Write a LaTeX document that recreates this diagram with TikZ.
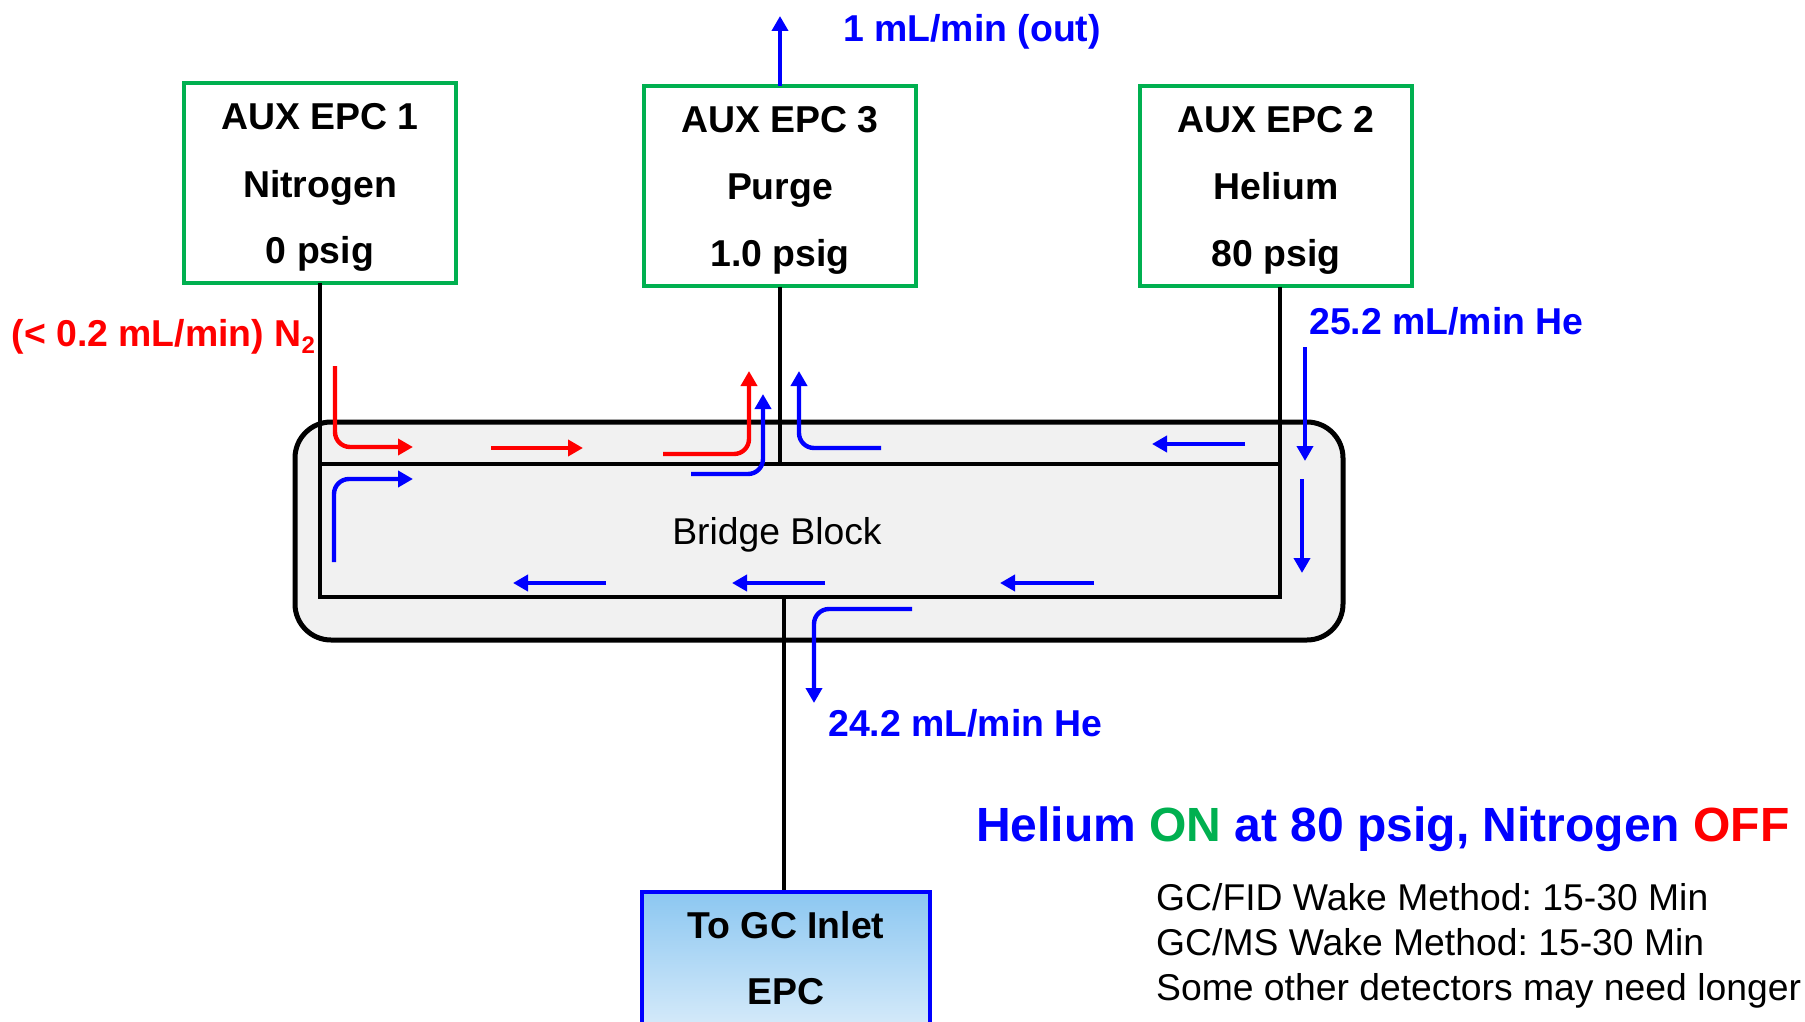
\documentclass[tikz,border=0pt]{standalone}
\usepackage{fontspec}
\setmainfont{Liberation Sans}
\usetikzlibrary{arrows.meta}
\frenchspacing
\definecolor{epcgreen}{HTML}{00B050}
\definecolor{blockgray}{HTML}{F1F1F1}
\definecolor{gctop}{HTML}{8CC7F1}
\definecolor{gcbot}{HTML}{E8F3FC}
\tikzset{
  x=1pt,y=-1pt,
  epcbox/.style={draw=epcgreen,line width=4pt,fill=white,minimum width=272.5pt,minimum height=200pt,inner sep=0pt,anchor=north west},
  boldtxt/.style={font=\fontsize{37.4}{40}\selectfont\bfseries,inner sep=0pt,text=black},
  plain/.style={font=\fontsize{37.3}{40}\selectfont,inner sep=0pt,text=black},
  pipe/.style={draw=black,line width=4pt},
  flow/.style={line width=4.4pt,rounded corners=15pt,-{Triangle[length=15pt,width=16pt]}},
  redflow/.style={flow,draw=red},
  blueflow/.style={flow,draw=blue},
  bluebold/.style={boldtxt,text=blue,anchor=base west},
}
\begin{document}
\begin{tikzpicture}
\path[use as bounding box] (0,0) rectangle (1805,1022);
\clip (0,0) rectangle (1805,1022);
% bridge block
\node[draw=black,line width=5pt,fill=blockgray,rounded corners=36pt,minimum width=1048pt,minimum height=218pt,inner sep=0pt,anchor=north west] (block) at (292.5,419.5) {};
% EPC boxes
\node[epcbox] (e1) at (181.5,81) {};
\node[epcbox] (e3) at (641.5,84) {};
\node[epcbox] (e2) at (1137.5,84) {};
\node[draw=blue,line width=4pt,top color=gctop,bottom color=gcbot,minimum width=288pt,minimum height=170pt,inner sep=0pt,anchor=north west] (gc) at (639.5,890) {};
% junctions
\coordinate (jl1) at (320,464);
\coordinate (jr1) at (1280,464);
\coordinate (jl2) at (318,597);
\coordinate (jr2) at (1282,597);
\coordinate (jp) at (780,464);
\coordinate (jg) at (784,597);
\coordinate (e1s) at (320,283);
\coordinate (e1b) at (320,597);
\coordinate (e2s) at (1280,287);
\coordinate (e2b) at (1280,599);
\coordinate (e3s) at (780,287);
\coordinate (e3n) at (780,86);
\coordinate (outtop) at (780,16);
\draw[pipe] (e1s) -- (e1b);
\draw[pipe] (e3s) -- (jp);
\draw[pipe] (e2s) -- (e2b);
\draw[pipe] (jl1) -- (jr1);
\draw[pipe] (jl2) -- (jr2);
\draw[pipe] (jg) -- (gc.north -| jg);
\draw[draw=blue,line width=4.4pt,-{Triangle[length=15pt,width=16pt]}] (e3n) -- (outtop);
% red flows
\coordinate (r1a) at (335,366);
\coordinate (r1b) at (335,447);
\coordinate (r1c) at (413,447);
\coordinate (r2a) at (491,448);
\coordinate (r2b) at (583,448);
\coordinate (r3a) at (663,454);
\coordinate (r3b) at (749,454);
\coordinate (r3c) at (749,371);
\draw[redflow] (r1a) -- (r1b) -- (r1c);
\draw[redflow] (r2a) -- (r2b);
\draw[redflow] (r3a) -- (r3b) -- (r3c);
% blue flows
\coordinate (b1a) at (691,474);
\coordinate (b1b) at (763,474);
\coordinate (b1c) at (763,394);
\coordinate (b2a) at (881,448);
\coordinate (b2b) at (799,448);
\coordinate (b2c) at (799,371);
\coordinate (b3a) at (334,562);
\coordinate (b3b) at (334,479);
\coordinate (b3c) at (413,479);
\coordinate (b4a) at (606,583);
\coordinate (b4b) at (513,583);
\coordinate (b5a) at (825,583);
\coordinate (b5b) at (732,583);
\coordinate (b6a) at (1094,583);
\coordinate (b6b) at (1000,583);
\coordinate (b7a) at (1245,444);
\coordinate (b7b) at (1152,444);
\coordinate (b8a) at (1305,347);
\coordinate (b8b) at (1305,461);
\coordinate (b9a) at (1302,479);
\coordinate (b9b) at (1302,573);
\coordinate (b10a) at (912,609);
\coordinate (b10b) at (814,609);
\coordinate (b10c) at (814,703);
\draw[blueflow] (b1a) -- (b1b) -- (b1c);
\draw[blueflow] (b2a) -- (b2b) -- (b2c);
\draw[blueflow] (b3a) -- (b3b) -- (b3c);
\draw[blueflow] (b4a) -- (b4b);
\draw[blueflow] (b5a) -- (b5b);
\draw[blueflow] (b6a) -- (b6b);
\draw[blueflow] (b7a) -- (b7b);
\draw[blueflow] (b8a) -- (b8b);
\draw[blueflow] (b9a) -- (b9b);
\draw[blueflow] (b10a) -- (b10b) -- (b10c);
% box text
\node[boldtxt,anchor=base] (t11) at (320,130) {AUX EPC 1};
\node[boldtxt,anchor=base] (t12) at (320,197) {Nitrogen};
\node[boldtxt,anchor=base] (t13) at (320,263) {0 psig};
\node[boldtxt,anchor=base] (t31) at (780,133) {AUX EPC 3};
\node[boldtxt,anchor=base] (t32) at (780,199.5) {Purge};
\node[boldtxt,anchor=base] (t33) at (780,266.5) {1.0 psig};
\node[boldtxt,anchor=base] (t21) at (1276,133) {AUX EPC 2};
\node[boldtxt,anchor=base] (t22) at (1276,199.5) {Helium};
\node[boldtxt,anchor=base] (t23) at (1276,266.5) {80 psig};
\node[boldtxt,anchor=base] (tg1) at (786,938) {To GC Inlet};
\node[boldtxt,anchor=base] (tg2) at (786,1004.5) {EPC};
\node[plain,anchor=base] (tb) at (777,544) {Bridge Block};
% flow labels
\node[bluebold] (l1) at (843,41.5) {1 mL/min (out)};
\node[bluebold] (l2) at (1309,334) {25.2 mL/min He};
\node[bluebold] (l3) at (828,736) {24.2 mL/min He};
\node[boldtxt,text=red,anchor=base west] (l4) at (11.5,346) {(< 0.2 mL/min) N\raisebox{-7pt}{\fontsize{24}{24}\selectfont 2}};
% summary
\node[inner sep=0pt,anchor=base west,font=\fontsize{48}{52}\selectfont\bfseries,text=blue] (hd) at (976,841) {Helium \textcolor{epcgreen}{ON} at 80 psig, Nitrogen \textcolor{red}{OFF}};
\node[plain,anchor=base west] (s1) at (1156,910) {GC/FID Wake Method: 15-30 Min};
\node[plain,anchor=base west] (s2) at (1156,955) {GC/MS Wake Method: 15-30 Min};
\node[plain,anchor=base west] (s3) at (1156,1000) {Some other detectors may need longer};
\end{tikzpicture}
\end{document}
